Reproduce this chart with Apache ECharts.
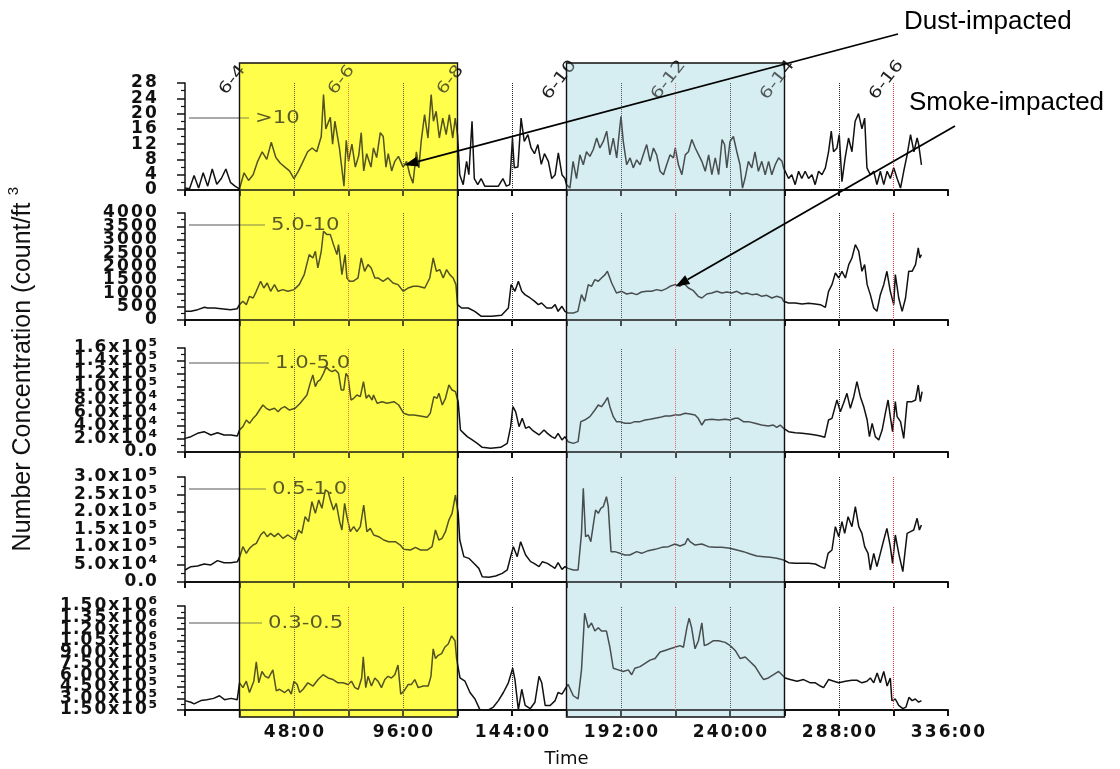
<!DOCTYPE html>
<html><head><meta charset="utf-8">
<script src="https://cdn.jsdelivr.net/npm/echarts@6/dist/echarts.min.js"></script>
<style>html,body{margin:0;padding:0;background:#fff}#c{width:1120px;height:769px}</style>
</head><body><div id="c"></div>
<script>
// ---------------- DATA ----------------
const panelNames = ['>10', '5.0-10', '1.0-5.0', '0.5-1.0', '0.3-0.5'];
// [hour, count/ft3]
const sizeGt10 = [[0,0.5],[2,0.3],[4,3.8],[6,0.5],[8,4.5],[10,1],[12,5.5],[14,1.5],[16,3],[18,5.5],[20,2],[22,1],[24,0.3],
[26,4.5],[28,2.5],[30,4],[32,7.5],[34,10],[36,8],[38,12.5],[40,8.5],[42,7],[44,6],[46,5],[48,3],
[50,5],[52,7.5],[54,10],[56,11],[58,10],[60,14],[61,25],[62,16],[64,19],[65,12],[66,18],[68,11],[70,1],[71,13],[72,7.5],
[73.5,12],[75,6],[76.5,9],[77.6,15],[78.7,5],[80,9.5],[81.9,6],[83,11],[84.4,8.5],[86,15],[87.3,14],[88.5,6],[89.5,9.5],[91,5],[92.4,7.5],[94,8.8],[96,6],
[97.6,7.5],[99,4],[100.4,1.8],[101.9,10],[103,5.8],[104,12.7],[105.5,19.7],[107,13.6],[108.4,25],[109.4,18],[110.6,20.6],[112,13.6],[113.5,18.8],[115,14.5],[116.4,19.7],[117.9,13.6],[119,18.8],[120,14.5],
[121,4],[122.5,1.4],[124,7.5],[125,4],[126.4,18],[127.4,3],[128.9,1.4],[130.4,3],[132,1],[134,1],[136,1],[138,1],[140,3],[141.5,1],[143,1.4],[144.2,13.6],[145,5.8],[146.6,6],[148,18.8],[149.4,12.7],[151,14.5],[152.4,11],[153.9,9.5],[155.4,11.9],[156.9,6.7],[158.3,9.5],
[160,7.5],[161.5,3],[163,4],[164.4,9.7],[166,4],[167.3,3],[168,1.4],[169.5,0.5],[170.9,7.5],[172.4,3],[173.9,9.2],[175.4,6.6],[176.8,10],[178.3,8.8],[179.8,10.6],[181.3,13.6],[182.7,11],[184.2,12.7],[185.7,15.4],[187.1,9.2],[188.6,13.6],[190.1,8.4],[191.3,15.4],[192,19.3],[193,12.7],[194.5,6.6],[196,8.4],[197.4,5.8],[198.9,7.9],[200.4,6.6],[201.8,9.2],[203.3,11.9],[204.8,7.5],[206.3,11],[207.7,9.2],[209.2,4.9],[210.7,4],[212.1,6.6],[213.6,9.2],[215.1,8.4],[215.9,11],[217.3,6.6],[218.8,4],[220.3,9.2],[221.7,10],[223.2,13.2],[224.7,11],[226.2,9.2],[227.6,7.5],[229.1,4.9],[230.6,9.2],[232,4],[233.5,8.4],[235,4],[236.5,13.2],[237.6,11.9],[238.6,5.8],[240,12.7],[241.5,14],[243,10],[244.4,6.6],[245.5,0.5],[246.6,3],[248.1,7.5],[249.6,5.8],[251,10],[252.5,4.9],[254,7.5],[255.5,4],[257,7.5],[258.4,4],[259.9,6.6],[261.4,8.4],[262.9,7.5],[263.6,5.8],
[264.3,4.9],[265.8,3],[267.2,4],[268.7,1.4],[270.2,4.9],[271.6,3],[273.1,4.9],[274.6,3],[276.1,4],[277.5,1.4],[279,4.9],[280.5,4],[282,5.8],[283.4,10],[284.6,15.4],[285.6,10],[287.1,11],[288.1,14.5],[289.3,2.2],[290.7,8.4],[292.2,13.6],[293.7,10],[295.1,18],[296.6,20],[298.1,16],[299.3,18.8],[300.3,5.8],[301.8,4],[303.3,4.9],[304.7,1.4],[306.2,4.9],[307.7,1.4],[309.2,4.9],[310.6,3],[312.1,5.8],[313.6,3],[315.1,0.5],[316.5,4.9],[318,9.2],[319.5,14.5],[321,10],[322.4,13.6],[323.1,11.9],[324.3,6.6]];

const size5to10 = [[0,324],[2.6,324],[5.6,387],[8.6,474],[10,449],[13,449],[16,424],[20,387],[23,424],[24,574],[25.5,698],[27,574],[28.4,885],[30,823],[31.4,1072],[33.3,1447],[34.7,1197],[36.2,1384],[37.7,1072],[39.4,1322],[41,1072],[43,1135],[45.3,1072],[48,1135],[50.3,1322],[52.5,1696],[54.7,2444],[56.3,2319],[57.4,2569],[58.5,1945],[60,2569],[61,3317],[62.5,3192],[64,3192],[65.4,2818],[66.9,2444],[67.6,2818],[69.1,1696],[70.5,2444],[71.3,1571],[72.5,1447],[74,1447],[76.2,1571],[77.6,2319],[79.1,1821],[80.6,2070],[82,1945],[83.6,1571],[85,1571],[87.2,1447],[89.4,1571],[91.6,1384],[93.8,1322],[96.1,1072],[98.3,1197],[100.5,1259],[102.7,1259],[105.6,1197],[107.8,1571],[109.3,2319],[110.7,1821],[112.2,1883],[113.7,1571],[115.2,1883],[116.6,1696],[118.1,1571],[119.3,1322],[120,574],[121.8,449],[124.7,449],[127.6,324],[130.5,137],[135,137],[139.4,175],[142.4,449],[143.6,1322],[145.3,1072],[146.8,1447],[148.3,1072],[149.7,948],[152,823],[154,698],[155.6,574],[157,636],[159.3,449],[160,511],[161.5,449],[163,574],[164.3,324],[166,511],[167.3,324],[168.7,262],[171,262],[173,324],[174.6,948],[176,698],[177.6,1322],[179,1259],[180.5,1509],[182,1447],[183.4,1571],[185,1696],[186,1821],[187.9,1384],[190,1010],[192.3,1072],[194.5,973],[196.7,1010],[198.9,948],[201,1047],[203.3,1072],[205.5,1072],[207.7,1135],[209.9,1097],[212,1172],[213.6,1259],[215.8,1322],[218,1259],[219.5,1384],[221.7,1197],[223.9,1097],[226,885],[227.6,823],[229.8,973],[232,1010],[234.2,1072],[236.4,1010],[238.6,1047],[240.8,1010],[243,1072],[245.2,973],[247.4,1010],[249.6,948],[251.8,973],[254,885],[256.2,923],[258.4,823],[260.6,885],[262.9,823],[263.6,698],[265.8,636],[268.7,636],[271.7,599],[274.6,624],[277.5,599],[279.8,574],[282,474],[283.4,1072],[284.9,1322],[286.4,1758],[287.9,1571],[289.3,1821],[290.8,1571],[292.3,2070],[293.7,2319],[295.2,2818],[296.7,2569],[298.1,1821],[299.3,2070],[300.4,1322],[301.8,948],[303.3,449],[304.7,324],[306.2,948],[307.7,1322],[309.1,1821],[310.6,1072],[312.1,574],[312.8,1696],[314.3,823],[315.8,324],[317.3,823],[318.7,1821],[320.2,1821],[321.7,2070],[322.9,2694],[323.6,2319],[324.3,2444]];

const size1to5 = [[0,21e3],[2.6,23.6e3],[5.5,28.7e3],[8.4,31.3e3],[11.4,26.2e3],[14.3,29.7e3],[17.2,26.2e3],[20.2,26.2e3],[23,24.6e3],[24,33.8e3],[25.5,39e3],[27,49.2e3],[28.4,44.1e3],[30,51.8e3],[31.4,56.9e3],[32.8,64.6e3],[34.3,72.3e3],[35.8,67.2e3],[37.2,64.6e3],[39.4,67.2e3],[41,62e3],[42.4,67.2e3],[43.9,69.7e3],[46,64.6e3],[48.5,67.2e3],[50.7,74.9e3],[52.5,82.6e3],[53.7,87.7e3],[55.1,105.6e3],[56.3,118.5e3],[57.4,100.5e3],[58.4,108.2e3],[59.5,110.8e3],[61,121e3],[62.2,131.3e3],[63.4,126.2e3],[64.7,123.6e3],[66.2,126.2e3],[67.6,121e3],[68.8,95.4e3],[69.9,95.4e3],[70.9,121e3],[71.8,115.9e3],[73.1,80e3],[74.3,82.6e3],[75.7,87.7e3],[77.2,85.1e3],[78.6,108.2e3],[79.8,82.6e3],[80.9,87.7e3],[82.4,80e3],[83,87.7e3],[84.6,74.9e3],[86.8,77.4e3],[89,74.9e3],[92,77.4e3],[94.1,72.3e3],[96.3,59.5e3],[98.5,56.9e3],[100.7,56.9e3],[103.6,55.4e3],[106.6,53.3e3],[108,59.5e3],[109.6,85.1e3],[111,82.6e3],[111.8,90.3e3],[113.3,72.3e3],[114.7,82.6e3],[116.2,103.1e3],[117.6,95.4e3],[119.1,92.8e3],[120.3,77.4e3],[121.3,33.8e3],[122.8,28.7e3],[124.3,23.6e3],[126.5,18.5e3],[128.7,13.3e3],[130.9,7.2e3],[134.6,5.6e3],[139,7.2e3],[141.9,13.3e3],[143.4,39e3],[144.4,69.7e3],[145.6,62e3],[147.1,39e3],[148.5,51.8e3],[150,36.4e3],[151.5,39e3],[152.9,33.8e3],[155.9,26.2e3],[158.1,33.8e3],[159.6,28.7e3],[161.4,23.6e3],[162.9,21e3],[164.3,28.7e3],[166,18.5e3],[167.3,23.6e3],[168.7,15.9e3],[171,13.3e3],[173.1,15.9e3],[174.3,46.7e3],[176,49.2e3],[178.3,54.4e3],[180.5,64.6e3],[182,72.3e3],[183.4,69.7e3],[185,77.4e3],[186.1,84.1e3],[187.1,69.7e3],[188.6,54.4e3],[190,46.7e3],[191.5,46.7e3],[193.7,44.1e3],[196,44.1e3],[198.1,46.7e3],[200.4,46.7e3],[202.6,49.2e3],[204.8,50.3e3],[207,51.8e3],[209.2,53.3e3],[211.4,55.4e3],[213.6,55.4e3],[215.8,56.9e3],[218,56.9e3],[220.2,59.5e3],[222.4,58.5e3],[224.6,56.9e3],[226,51.8e3],[227.6,41.5e3],[229,49.2e3],[232,50.3e3],[234.9,49.2e3],[237.9,50.3e3],[240,49.2e3],[242.3,51.8e3],[243.7,51.8e3],[245.9,46.7e3],[248.1,46.7e3],[251,44.1e3],[253.9,41.5e3],[256.9,40e3],[259.1,41.5e3],[260.6,37.9e3],[262.1,41.5e3],[263.6,36.4e3],[265.8,31.3e3],[268.7,29.7e3],[271.7,28.7e3],[274.6,27.7e3],[277.6,26.2e3],[279.8,24.6e3],[281.7,22.6e3],[283.4,49.2e3],[284.9,51.8e3],[286.1,67.2e3],[287.1,80e3],[288.6,62e3],[290,74.9e3],[291.5,90.3e3],[293,67.2e3],[294.5,85.1e3],[295.9,108.2e3],[297.4,85.1e3],[298.9,69.7e3],[300.4,49.2e3],[301.4,23.6e3],[302.6,44.1e3],[304,23.6e3],[305.5,18.5e3],[307,33.8e3],[308.4,59.5e3],[309.6,80e3],[310.6,54.4e3],[311.6,31.3e3],[312.8,77.4e3],[313.6,54.4e3],[315.1,46.7e3],[316.5,21e3],[318,77.4e3],[320.2,77.4e3],[321.7,80e3],[322.9,103.1e3],[323.8,77.4e3],[324.6,92.8e3]];

const size05to1 = [[0,34.3e3],[2.6,43.8e3],[5.5,45.7e3],[8.4,51.4e3],[11.4,48.6e3],[14.3,61e3],[17.2,55.2e3],[20.2,55.2e3],[23.1,58.1e3],[24.1,72.4e3],[25.5,101e3],[27,81.9e3],[28.4,96.2e3],[30,105.7e3],[31.4,110.5e3],[33.3,134.3e3],[34.7,143.8e3],[36.2,129.5e3],[37.7,139e3],[39.4,129.5e3],[41,139e3],[43.1,124.8e3],[45.3,134.3e3],[48.5,120e3],[50,148.6e3],[51.4,139e3],[52.9,186.7e3],[54.4,172.4e3],[55.9,229.5e3],[57.4,196.2e3],[58.9,234.3e3],[60.3,210.5e3],[61.8,262.9e3],[63,258.1e3],[64,234.3e3],[65.4,205.7e3],[66.6,224.8e3],[68.1,172.4e3],[69.1,148.6e3],[70.3,224.8e3],[71.3,186.7e3],[72.8,143.8e3],[74.3,158.1e3],[75.7,143.8e3],[77.2,158.1e3],[78.7,220e3],[80.1,143.8e3],[81.6,153.3e3],[83.1,134.3e3],[85.3,129.5e3],[87.5,120e3],[89.7,115.2e3],[92.6,115.2e3],[94.8,105.7e3],[96.3,93.3e3],[99.3,91.4e3],[101.5,99e3],[103.7,91.4e3],[106.6,91.4e3],[108.8,101e3],[110.3,148.6e3],[111.8,120e3],[113.2,124.8e3],[114.7,143.8e3],[116.2,177.1e3],[117.6,196.2e3],[119.1,248.6e3],[120.3,196.2e3],[121,120e3],[122.8,72.4e3],[125,67.6e3],[127.2,53.3e3],[129.4,39e3],[130.9,15.2e3],[133.8,13.3e3],[136.8,17.1e3],[139.7,24.8e3],[141.9,34.3e3],[143.4,72.4e3],[144.6,101e3],[146.3,72.4e3],[147.8,115.2e3],[150,77.1e3],[152.2,58.1e3],[153.7,53.3e3],[155.9,43.8e3],[157.4,58.1e3],[159.6,53.3e3],[161.4,45.7e3],[162.9,39e3],[164.3,55.2e3],[166,36.2e3],[167.3,43.8e3],[168.7,39e3],[171,34.3e3],[173.1,34.3e3],[174.6,139e3],[175.4,267.6e3],[176.4,129.5e3],[177.6,134.3e3],[178.7,115.2e3],[179.8,162.9e3],[180.8,205.7e3],[182,196.2e3],[183.1,210.5e3],[184.2,215.2e3],[185.6,243.8e3],[186.4,215.2e3],[187.6,86.7e3],[189.3,86.7e3],[191.5,81.9e3],[193.7,77.1e3],[195.9,77.1e3],[198.9,86.7e3],[201.1,81.9e3],[204,89.5e3],[207,93.3e3],[210,99e3],[212.9,101e3],[215.8,108.6e3],[218,102.9e3],[220.2,108.6e3],[221.4,124.8e3],[222.4,115.2e3],[224.6,105.7e3],[227.6,108.6e3],[230.5,101e3],[233.4,99e3],[236.4,99e3],[240,96.2e3],[243,91.4e3],[245.9,86.7e3],[248.9,80e3],[251.8,74.3e3],[254.8,72.4e3],[257.7,70.5e3],[260.6,67.6e3],[263.6,62.9e3],[265.8,55.2e3],[268.7,53.3e3],[271.7,53.3e3],[274.6,53.3e3],[277.6,51.4e3],[279.8,43.8e3],[281.7,39e3],[283.2,81.9e3],[284.9,91.4e3],[286.4,158.1e3],[287.9,129.5e3],[289.3,172.4e3],[290.5,139e3],[292,186.7e3],[293.7,158.1e3],[295.2,215.2e3],[296.7,158.1e3],[298.1,139e3],[299.3,101e3],[300.8,81.9e3],[301.8,34.3e3],[303.3,81.9e3],[304.7,43.8e3],[306.2,81.9e3],[307.7,120e3],[309.1,153.3e3],[310.6,101e3],[311.6,53.3e3],[312.8,134.3e3],[314.3,81.9e3],[316.1,29.5e3],[318,139e3],[319.5,143.8e3],[320.9,148.6e3],[322.4,181.9e3],[323.4,148.6e3],[324.3,162.9e3]];

const size03to05 = [[0,272e3],[2.6,251e3],[4,230e3],[7,272e3],[9.6,284e3],[12.6,301e3],[15.2,335e3],[17.4,284e3],[20.3,301e3],[23,284e3],[24,503e3],[25.5,440e3],[27,524e3],[28.4,377e3],[30.3,524e3],[31.4,776e3],[32.5,503e3],[33.9,650e3],[35.3,587e3],[36.8,566e3],[38.7,671e3],[40.2,398e3],[41.6,419e3],[43.9,377e3],[45.6,419e3],[46.8,356e3],[48,524e3],[49.4,482e3],[50.5,377e3],[52,419e3],[54.1,503e3],[56.4,461e3],[58.6,545e3],[60.8,608e3],[63,566e3],[65.2,545e3],[67.4,503e3],[69.6,503e3],[71.8,482e3],[73.3,524e3],[74.8,440e3],[76.3,419e3],[77.8,566e3],[78.5,839e3],[79.6,440e3],[80.6,587e3],[82.1,461e3],[83.6,566e3],[85,524e3],[86.5,440e3],[88,545e3],[89.4,587e3],[90.9,566e3],[92.4,608e3],[93.8,734e3],[95,356e3],[96.5,398e3],[98.3,482e3],[99.7,482e3],[101.2,545e3],[102.7,440e3],[104.9,461e3],[107.1,461e3],[108.3,587e3],[109.3,944e3],[110.3,818e3],[111.5,860e3],[113,881e3],[114.4,965e3],[115.9,1007e3],[117.4,1112e3],[118.9,1049e3],[119.6,818e3],[121.1,566e3],[123.3,524e3],[125.5,377e3],[127.7,293e3],[129.9,152e3],[133.6,152e3],[135.8,188e3],[138,272e3],[140.2,377e3],[142.4,503e3],[144.3,692e3],[145.3,545e3],[146.8,152e3],[148.3,419e3],[149.8,209e3],[152,167e3],[154.1,251e3],[155.9,587e3],[157.1,503e3],[158.6,209e3],[160.8,209e3],[163,272e3],[164.3,377e3],[166,356e3],[167.3,419e3],[168.7,482e3],[171,335e3],[173.1,293e3],[174.6,671e3],[176,1406e3],[177.6,1217e3],[179,1280e3],[180.5,1175e3],[182,1217e3],[183.4,1175e3],[185.6,1175e3],[187.1,965e3],[188.6,692e3],[190.8,671e3],[193,650e3],[195.2,671e3],[196.7,608e3],[198.1,692e3],[200.4,713e3],[202.6,755e3],[204.8,797e3],[207,818e3],[209.2,902e3],[211.4,923e3],[213.6,944e3],[215.8,965e3],[218,986e3],[219.5,965e3],[221,1217e3],[222,1343e3],[223.1,1217e3],[224.6,944e3],[226.1,1049e3],[227.6,1280e3],[228.7,986e3],[230.5,1007e3],[232.7,1049e3],[234.9,1049e3],[237.9,1028e3],[240.1,986e3],[242.3,923e3],[244.5,818e3],[246.7,839e3],[248.9,776e3],[251.1,713e3],[253.3,608e3],[254.8,545e3],[256.9,566e3],[259.2,608e3],[261.4,650e3],[262.9,608e3],[264.3,566e3],[266.5,545e3],[269.5,524e3],[272.4,545e3],[275.4,503e3],[277.6,503e3],[279.8,461e3],[281.2,440e3],[283.4,545e3],[285.7,524e3],[287.9,503e3],[290.8,524e3],[293.7,536e3],[295.9,536e3],[298.1,503e3],[300.3,524e3],[301.8,566e3],[303.3,503e3],[304.8,629e3],[306.2,503e3],[307.7,650e3],[309.2,461e3],[310.6,566e3],[311.3,272e3],[312.8,293e3],[314.3,209e3],[316.1,167e3],[317.5,188e3],[318.8,314e3],[320.2,272e3],[321.6,293e3],[323.1,251e3],[324.3,272e3]];

// axis ranges: [min, max, interval]
const yRanges = [[0,28,4],[0,4000,500],[0,160000,20000],[0,300000,50000],[150000,1500000,150000]];
const yDecimals = [null, null, 1, 1, 2];
const xTickLabels = ['48:00','96:00','144:00','192:00','240:00','288:00','336:00'];
const dateLabels = ['6-4','6-6','6-8','6-10','6-12','6-14','6-16'];
const dateHours = [24,72,120,168,216,264,312];
const midDayHours = [48,96,144,192,240,288];
const dustBand = [24,120];
const smokeBand = [168,264];
const dustPoint = [96.5, 6.5];     // panel 1
const smokePoint = [216, 1250];    // panel 2

// ---------------- LAYOUT ----------------
const seriesData = [sizeGt10, size5to10, size1to5, size05to1, size03to05];
const gridTops = [83, 213, 348, 477, 606];
const gridHeights = [107, 107, 104, 105, 107];
const FONT = 'DejaVu Sans';
const supMap = {'0':'⁰','1':'¹','2':'²','3':'³','4':'⁴','5':'⁵','6':'⁶','7':'⁷','8':'⁸','9':'⁹'};

function sciLabel(v, d) {
  if (Math.abs(v) < 1e-9) return (0).toFixed(d);
  const e = Math.floor(Math.log10(v) + 1e-9);
  const m = v / Math.pow(10, e);
  return m.toFixed(d) + 'x10^' + e;
}
// wide, stretched-looking tick labels: one rich token per character
function richify(s) {
  const parts = s.split('^');
  let out = parts[0].split('').map(ch => {
    if (ch === '.') return '{p|.}';
    if (ch === ':') return '{p|:}';
    if (ch === 'x') return '{x|x}';
    return '{d|' + ch + '}';
  }).join('');
  if (parts.length > 1) out += '{s|' + parts[1].split('').map(c => supMap[c]).join('') + '}';
  return out;
}
const tok = (w, extra) => Object.assign({width: w, align: 'center', fontFamily: FONT, fontSize: 17,
  fontWeight: 'bold', color: '#111', lineHeight: 10}, extra || {});
const labelRich = {
  d: tok(14),
  p: tok(6.5),
  x: tok(12.5),
  s: tok(10, {fontSize: 20, align: 'left'})
};
const yLabelText = (i, v) => richify(yDecimals[i] === null ? String(Math.round(v)) : sciLabel(v, yDecimals[i]));

const chart = echarts.init(document.getElementById('c'), null, {renderer: 'canvas'});
const grids = [], xAxes = [], yAxes = [], series = [];
for (let i = 0; i < 5; i++) {
  grids.push({left: 185, width: 763, top: gridTops[i], height: gridHeights[i]});
  const last = i === 4;
  xAxes.push({
    type: 'value', gridIndex: i, min: 0, max: 336, interval: 24, z: 3,
    axisLine: {show: true, lineStyle: {color: '#111', width: 2}},
    axisTick: {show: true, length: 6, lineStyle: {color: '#111', width: 2}},
    splitLine: {show: false},
    axisLabel: {show: last, margin: 18, showMinLabel: true, showMaxLabel: true, rich: labelRich,
      formatter: v => (v > 0 && v % 48 === 0) ? richify(xTickLabels[v / 48 - 1]) : ''},
    name: last ? 'Time' : '', nameLocation: 'middle', nameGap: 40,
    nameTextStyle: {fontFamily: FONT, fontSize: 18, color: '#111'}
  });
  const r = yRanges[i];
  // main axis: line, ticks and the inner labels
  yAxes.push({
    type: 'value', gridIndex: i, position: 'left', offset: 0, min: r[0], max: r[1], interval: r[2], z: 3,
    axisLine: {show: true, onZero: false, lineStyle: {color: '#111', width: 1.5}},
    axisTick: {show: true, length: 8, lineStyle: {color: '#111', width: 1.5}},
    minorTick: {show: true, splitNumber: 2, length: 4, lineStyle: {color: '#111', width: 1.2}},
    splitLine: {show: false},
    axisLabel: {margin: 27, showMinLabel: false, showMaxLabel: false, rich: labelRich,
      formatter: v => yLabelText(i, v)}
  });
  // companion axis on the same scale and side: only the end labels (min / max)
  yAxes.push({
    type: 'value', gridIndex: i, position: 'left', offset: 0, min: r[0], max: r[1], interval: r[2], z: 3,
    axisLine: {show: false, onZero: false}, axisTick: {show: false}, minorTick: {show: false}, splitLine: {show: false},
    axisLabel: {margin: 27, showMinLabel: true, showMaxLabel: true, rich: labelRich,
      formatter: v => (Math.abs(v - r[0]) < 1e-6 || Math.abs(v - r[1]) < 1e-6) ? yLabelText(i, v) : ''}
  });
  const mlData = dateHours.map(h => ({xAxis: h, lineStyle: {color: '#e3343c'}}))
    .concat(midDayHours.map(h => ({xAxis: h, lineStyle: {color: '#222'}})));
  series.push({
    type: 'line', xAxisIndex: i, yAxisIndex: 2 * i, data: seriesData[i], z: 4,
    showSymbol: false, symbol: 'none', clip: true,
    lineStyle: {color: '#111', width: 1.5},
    markLine: {silent: true, symbol: 'none', label: {show: false}, animation: false,
      lineStyle: {type: 'dotted', width: 1}, data: mlData}
  });
}

chart.setOption({
  backgroundColor: '#fff', animation: false,
  textStyle: {fontFamily: FONT},
  grid: grids, xAxis: xAxes, yAxis: yAxes, series: series
});

// ---------------- GRAPHIC OVERLAYS ----------------
const px = h => chart.convertToPixel({xAxisIndex: 0}, h);
const BAND_TOP = 63, BAND_BOTTOM = 717;
const YEL = [255, 255, 76], BLU = [214, 238, 241];
const rgba = (c, a) => `rgba(${c[0]},${c[1]},${c[2]},${a})`;
const g = [];
[[dustBand, YEL], [smokeBand, BLU]].forEach(([b, c]) => {
  const x0 = px(b[0]), x1 = px(b[1]);
  g.push({type: 'rect', z: 1, silent: true,
    shape: {x: x0, y: BAND_TOP, width: x1 - x0, height: BAND_BOTTOM - BAND_TOP},
    style: {fill: rgba(c, 1)}});
  g.push({type: 'rect', z: 20, silent: true,
    shape: {x: x0, y: BAND_TOP, width: x1 - x0, height: BAND_BOTTOM - BAND_TOP},
    style: {fill: rgba(c, 0.28), stroke: '#111', lineWidth: 1.4}});
});

// panel labels with leader lines
const labelY = [118, 225, 363, 489, 623];
const labelX = [255, 271, 275, 272, 268];
panelNames.forEach((n, i) => {
  g.push({type: 'line', z: 10, silent: true,
    shape: {x1: 189, y1: labelY[i], x2: labelX[i] - 6, y2: labelY[i]},
    style: {stroke: '#555', lineWidth: 1}});
  g.push({type: 'text', z: 10, silent: true, x: labelX[i], y: labelY[i], scaleX: 1.18,
    style: {text: n, fontFamily: FONT, fontSize: 18, fill: '#1a1a1a', align: 'left', verticalAlign: 'middle'}});
});

// date labels
dateLabels.forEach((d, i) => {
  g.push({type: 'text', z: 10, silent: true, x: px(dateHours[i]) - 7, y: 80,
    rotation: 52 * Math.PI / 180, scaleX: 1.25,
    style: {text: d, fontFamily: FONT, fontSize: 16, fill: '#222', align: 'center', verticalAlign: 'middle'}});
});

// y title
g.push({type: 'text', z: 10, silent: true, x: 23, y: 377, rotation: Math.PI / 2,
  style: {text: 'Number Concentration (count/ft', fontFamily: 'Liberation Sans', fontSize: 25,
    fill: '#111', align: 'center', verticalAlign: 'middle'}});
g.push({type: 'text', z: 10, silent: true, x: 14, y: 191, rotation: Math.PI / 2,
  style: {text: '3', fontFamily: 'Liberation Sans', fontSize: 15, fill: '#111', align: 'center', verticalAlign: 'middle'}});

// annotation arrows
function arrow(from, to) {
  const dx = to[0] - from[0], dy = to[1] - from[1];
  const L = Math.hypot(dx, dy), ux = dx / L, uy = dy / L;
  const hl = 14, hw = 5;
  const bx = to[0] - ux * hl, by = to[1] - uy * hl;
  g.push({type: 'line', z: 30, silent: true,
    shape: {x1: from[0], y1: from[1], x2: bx, y2: by}, style: {stroke: '#000', lineWidth: 1.8}});
  g.push({type: 'polygon', z: 30, silent: true,
    shape: {points: [[to[0], to[1]], [bx - uy * hw, by + ux * hw], [bx + uy * hw, by - ux * hw]]},
    style: {fill: '#000'}});
}
const dustTip = chart.convertToPixel({xAxisIndex: 0, yAxisIndex: 0}, dustPoint);
const smokeTip = chart.convertToPixel({xAxisIndex: 1, yAxisIndex: 2}, smokePoint);
arrow([898, 34], dustTip);
arrow([955, 126], smokeTip);
g.push({type: 'text', z: 30, silent: true, x: 904, y: 22,
  style: {text: 'Dust-impacted', fontFamily: 'Liberation Sans', fontSize: 26, fill: '#000', align: 'left', verticalAlign: 'middle'}});
g.push({type: 'text', z: 30, silent: true, x: 909, y: 103,
  style: {text: 'Smoke-impacted', fontFamily: 'Liberation Sans', fontSize: 26, fill: '#000', align: 'left', verticalAlign: 'middle'}});

chart.setOption({graphic: g});
</script></body></html>
